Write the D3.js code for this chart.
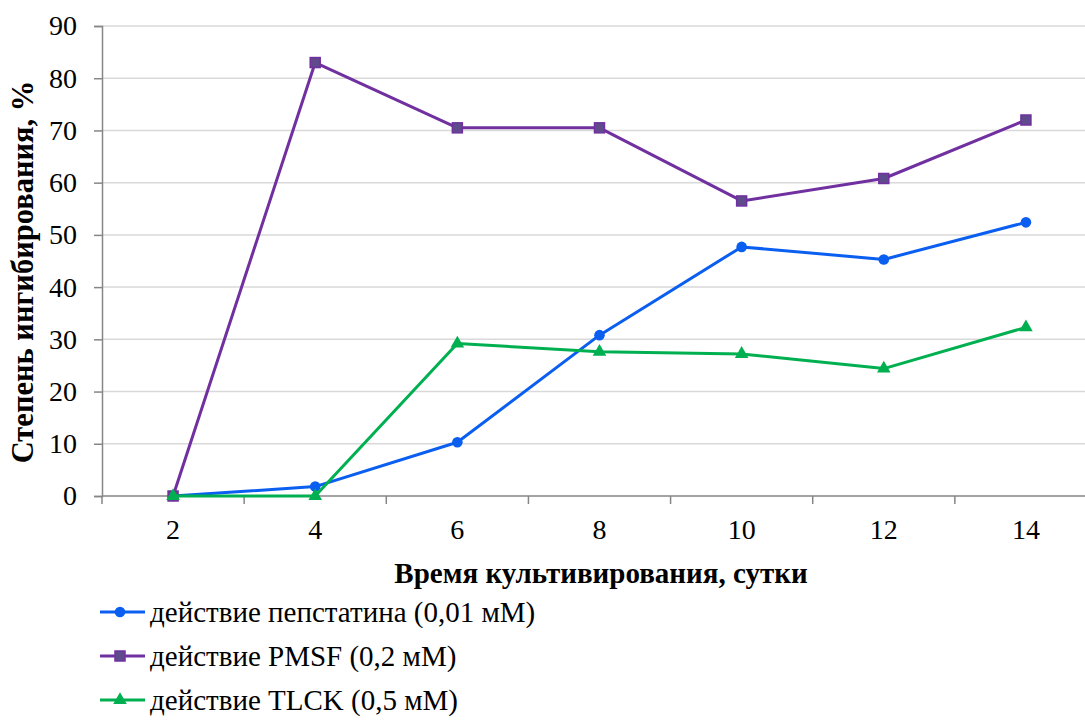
<!DOCTYPE html>
<html>
<head>
<meta charset="utf-8">
<script src="https://cdn.jsdelivr.net/npm/d3@7"></script>
<style>
  body { margin: 0; background: #fff; }
  svg { display: block; }
</style>
</head>
<body>
<div id="chart"></div>
<script>
// data
const days = ['2', '4', '6', '8', '10', '12', '14'];
const pepstatin = [0, 1.8, 10.3, 30.8, 47.7, 45.3, 52.4];
const pmsf = [0, 83, 70.5, 70.5, 56.5, 60.8, 72];
const tlck = [0, 0, 29.2, 27.6, 27.2, 24.4, 32.3];
const yTicks = [0, 10, 20, 30, 40, 50, 60, 70, 80, 90];
const seriesNames = ['действие пепстатина (0,01 мМ)', 'действие PMSF (0,2 мМ)', 'действие TLCK (0,5 мМ)'];

const width = 1085, height = 720;
const plotLeft = 102, plotRight = 1097, plotTop = 26, plotBottom = 496;
const FONT = '"Times New Roman", Tinos, "Liberation Serif", "DejaVu Serif", serif';

const series = [
  { name: seriesNames[0], values: pepstatin, color: '#0a5ef0', marker: 'circle', fill: '#0a5ef0' },
  { name: seriesNames[1], values: pmsf, color: '#7030a0', marker: 'square', fill: '#5f4a8b' },
  { name: seriesNames[2], values: tlck, color: '#00b050', marker: 'triangle', fill: '#00b050' }
];

const svg = d3.select('#chart').append('svg')
  .attr('width', width).attr('height', height)
  .style('font-family', FONT);

const x = d3.scaleBand().domain(days).range([plotLeft, plotRight]);
const y = d3.scaleLinear().domain([0, 90]).range([plotBottom, plotTop]);

// gridlines
svg.append('g')
  .selectAll('line')
  .data(yTicks.filter(d => d > 0))
  .join('line')
  .attr('x1', plotLeft).attr('x2', plotRight)
  .attr('y1', d => y(d)).attr('y2', d => y(d))
  .attr('stroke', '#d9d9d9').attr('stroke-width', 1.5);

// y axis
const yAxis = svg.append('g')
  .attr('transform', `translate(${plotLeft},0)`)
  .call(d3.axisLeft(y).tickValues(yTicks).tickSize(8).tickPadding(17));
yAxis.attr('font-family', null).attr('font-size', 28);
yAxis.select('.domain').attr('stroke', '#868686').attr('stroke-width', 1.5);
yAxis.selectAll('.tick line').attr('stroke', '#868686').attr('stroke-width', 1.5);
yAxis.selectAll('text').attr('fill', '#000');

// x axis: ticks at band edges
const xAxis = svg.append('g').attr('transform', `translate(0,${plotBottom})`);
xAxis.append('line').attr('x1', plotLeft).attr('x2', plotRight)
  .attr('stroke', '#868686').attr('stroke-width', 1.5);
xAxis.selectAll('.edge')
  .data(days)
  .join('line')
  .attr('x1', d => x(d)).attr('x2', d => x(d))
  .attr('y1', 0).attr('y2', 8)
  .attr('stroke', '#868686').attr('stroke-width', 1.5);
xAxis.selectAll('text')
  .data(days)
  .join('text')
  .attr('x', d => x(d) + x.bandwidth() / 2)
  .attr('y', 43)
  .attr('text-anchor', 'middle')
  .attr('font-size', 28)
  .text(d => d);

// axis titles
svg.append('text')
  .attr('transform', `translate(33,${272}) rotate(-90)`)
  .attr('text-anchor', 'middle')
  .attr('font-size', 30.5).attr('font-weight', 'bold')
  .text('Степень ингибирования, %');

svg.append('text')
  .attr('x', 601).attr('y', 583)
  .attr('text-anchor', 'middle')
  .attr('font-size', 29).attr('font-weight', 'bold')
  .text('Время культивирования, сутки');

const cx = d => x(d) + x.bandwidth() / 2;
const line = d3.line().x(d => cx(d.day)).y(d => y(d.v));

function drawMarker(g, type, fill, stroke, px, py) {
  if (type === 'circle') {
    g.append('circle').attr('cx', px).attr('cy', py).attr('r', 5.3).attr('fill', fill);
  } else if (type === 'square') {
    g.append('rect').attr('x', px - 5).attr('y', py - 5).attr('width', 10).attr('height', 10)
      .attr('fill', fill).attr('stroke', stroke).attr('stroke-width', 1.5);
  } else {
    g.append('path')
      .attr('d', d3.symbol(d3.symbolTriangle, 80)())
      .attr('transform', `translate(${px},${py})`)
      .attr('fill', fill);
  }
}

series.forEach(s => {
  const pts = days.map((d, i) => ({ day: d, v: s.values[i] }));
  const g = svg.append('g');
  g.append('path')
    .datum(pts)
    .attr('d', line)
    .attr('fill', 'none')
    .attr('stroke', s.color)
    .attr('stroke-width', 3)
    .attr('stroke-linejoin', 'round');
  pts.forEach(p => drawMarker(g, s.marker, s.fill, s.color, cx(p.day), y(p.v)));
});

// legend
const legend = svg.append('g');
series.forEach((s, i) => {
  const ly = 612 + i * 44;
  const g = legend.append('g');
  g.append('line').attr('x1', 100).attr('x2', 145).attr('y1', ly).attr('y2', ly)
    .attr('stroke', s.color).attr('stroke-width', 3);
  drawMarker(g, s.marker, s.fill, s.color, 120, ly);
  g.append('text').attr('x', 150).attr('y', ly + 10)
    .attr('font-size', 29).text(s.name);
});
</script>
</body>
</html>
